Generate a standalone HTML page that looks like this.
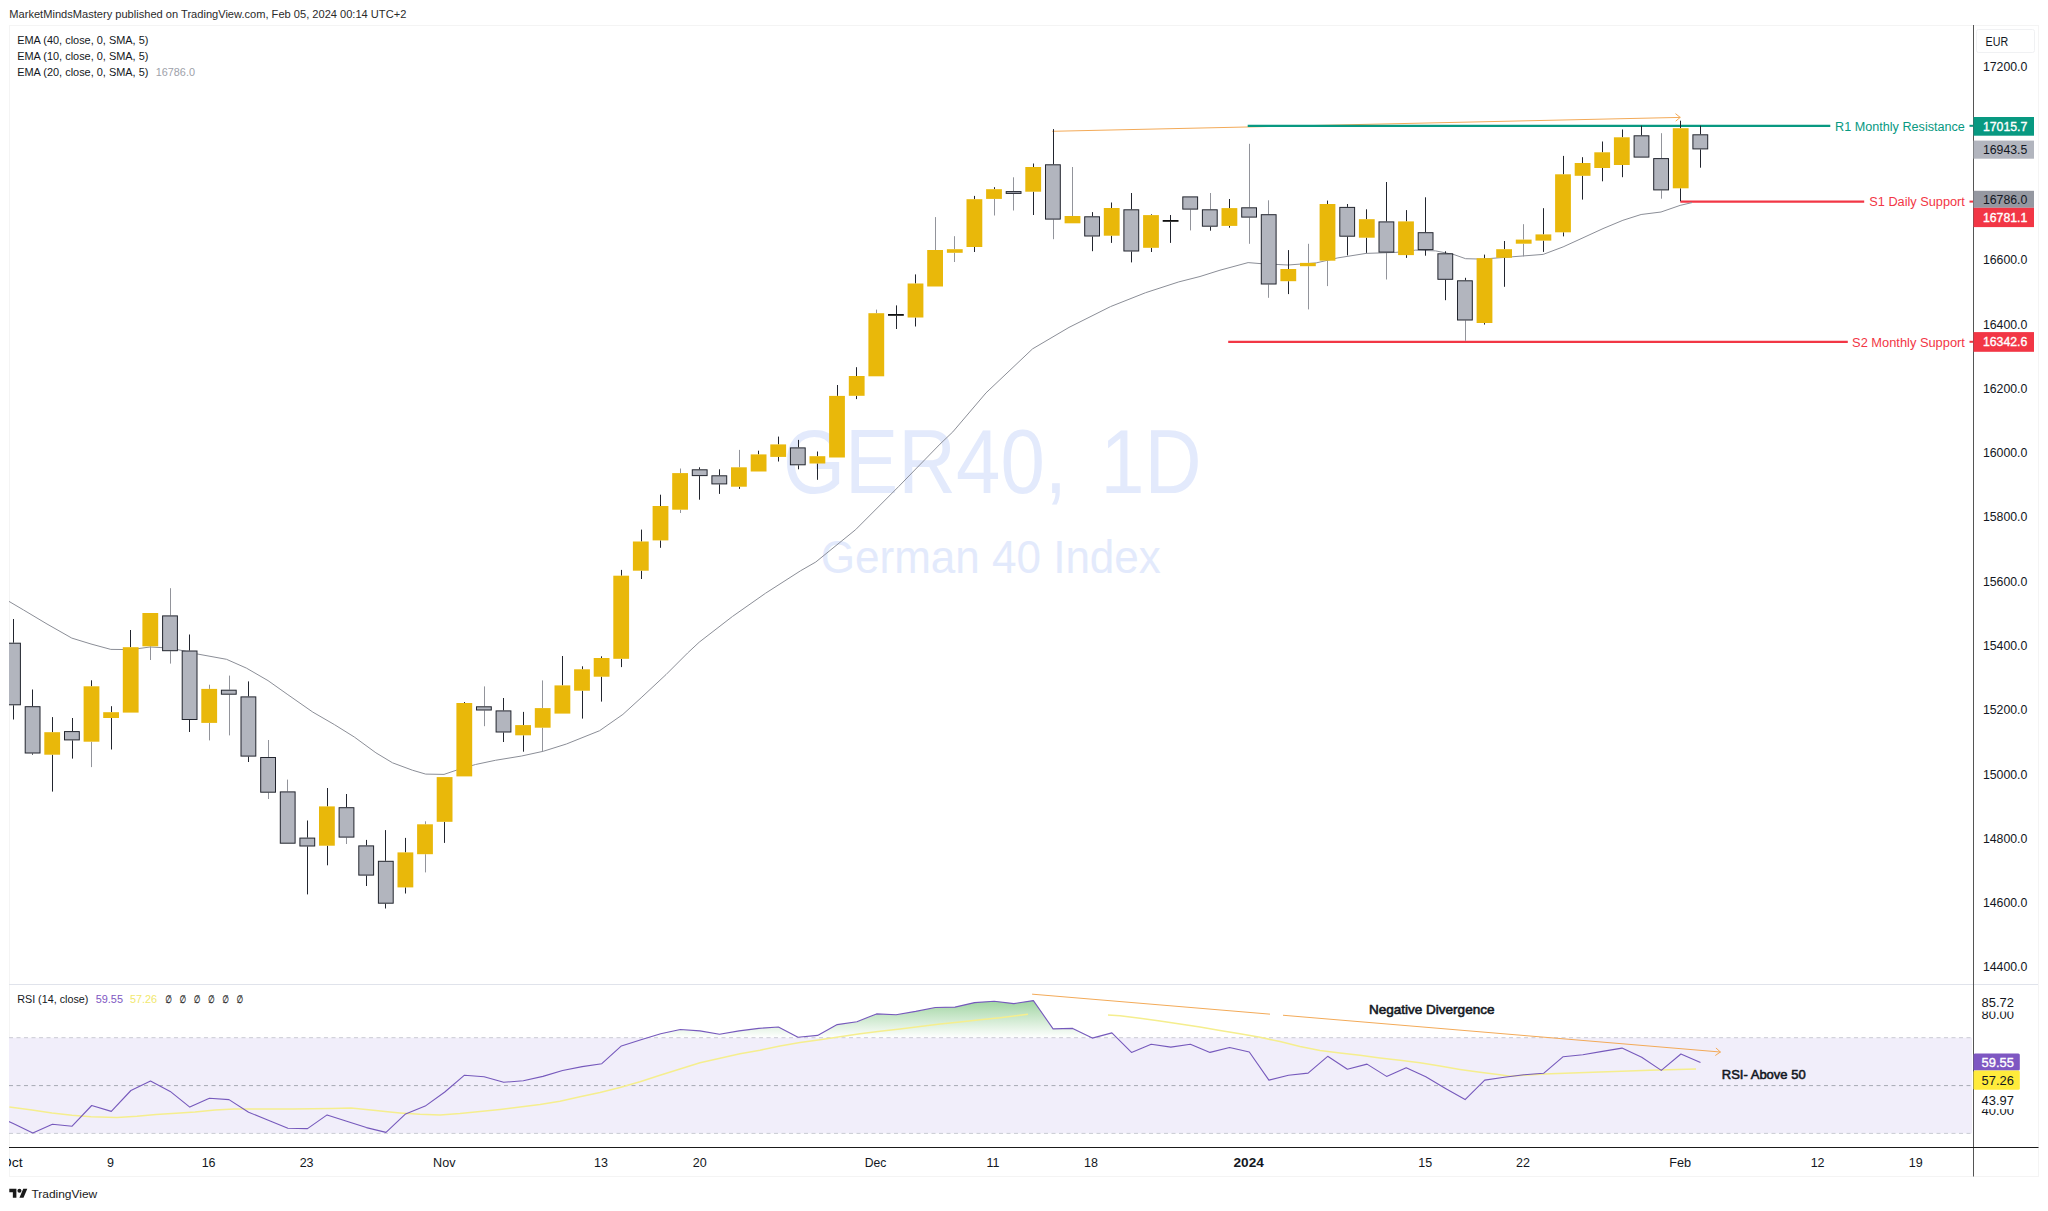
<!DOCTYPE html>
<html lang="en"><head><meta charset="utf-8"><title>GER40 1D - TradingView</title>
<style>html,body{margin:0;padding:0;background:#fff;overflow:hidden}svg{display:block}text{font-family:"Liberation Sans", "DejaVu Sans", sans-serif;white-space:pre}</style>
</head><body>
<svg width="2048" height="1211" viewBox="0 0 2048 1211">
<defs>
<linearGradient id="gob" gradientUnits="userSpaceOnUse" x1="0" y1="968" x2="0" y2="1037.7"><stop offset="0" stop-color="#4CAF50" stop-opacity="1"/><stop offset="1" stop-color="#4CAF50" stop-opacity="0"/></linearGradient>
<clipPath id="cp"><rect x="9" y="25" width="1964" height="1123"/></clipPath>
<clipPath id="cpt"><rect x="9" y="1148" width="2030" height="30"/></clipPath>
</defs>
<rect width="2048" height="1211" fill="#fff"/>
<g stroke="#F4F4F4" stroke-width="1" fill="none">
<path d="M9.5 25V1176.5M2038.5 25V1176.5M9 25.5H2039M9 1176.5H2039"/>
</g>
<text x="9.3" y="17.9" font-size="11.3" fill="#2a2a2a" font-weight="normal" textLength="397.0" lengthAdjust="spacingAndGlyphs">MarketMindsMastery published on TradingView.com, Feb 05, 2024 00:14 UTC+2</text>
<g fill="#E3EAFC" text-anchor="middle">
<text y="492.6" font-size="91" text-anchor="start"><tspan x="783" textLength="284" lengthAdjust="spacingAndGlyphs">GER40,</tspan><tspan x="1078.5" textLength="123" lengthAdjust="spacingAndGlyphs"> 1D</tspan></text>
<text x="990.8" y="573" font-size="46" textLength="340" lengthAdjust="spacingAndGlyphs">German 40 Index</text>
</g>
<g clip-path="url(#cp)">
<rect x="9" y="1037.7" width="1963" height="95.7" fill="#F1EEFA"/>
<g fill="none" stroke-width="1" stroke-dasharray="4 3.5">
<path d="M9 1037.7H1972M9 1133.4H1972" stroke="#C9CBD3"/>
<path d="M9 1085.6H1972" stroke="#A6A9B3"/>
</g>
</g>
<path d="M9 984.5H2038" stroke="#E0E3EB" stroke-width="1" fill="none"/>
<g clip-path="url(#cp)">
<g stroke="#F3AA58" stroke-width="1" fill="none" stroke-linecap="round">
<path d="M1052.7 131.3L1680 117.4"/>
<path d="M1675.8 113.9L1680.2 117.4L1676 120.9"/>
</g>
<path d="M1247.7 125.8H1830.3" stroke="#089981" stroke-width="2.2" fill="none"/>
<path d="M1680.3 201.6H1864.2" stroke="#F23645" stroke-width="2.2" fill="none"/>
<path d="M1228.2 341.8H1847.8" stroke="#F23645" stroke-width="2.2" fill="none"/>
<polyline points="9.0,601.4 23.6,610.0 47.0,624.0 71.8,638.1 91.0,644.0 110.8,649.4 131.0,649.6 150.0,647.0 170.0,648.0 189.0,652.0 197.4,654.0 226.5,659.3 246.4,668.1 268.0,680.6 287.9,694.7 312.8,712.1 334.4,724.6 354.3,737.0 375.9,752.8 392.5,762.8 412.4,770.2 425.7,774.1 444.0,774.4 456.4,770.2 475.5,764.5 495.4,760.3 521.6,756.0 543.2,751.3 566.4,744.0 599.6,730.7 622.9,714.4 641.1,697.8 666.0,674.6 687.6,653.0 699.2,642.2 732.4,616.5 765.6,593.2 800.5,570.8 815.8,562.0 855.7,529.6 898.8,486.4 940.0,444.1 952.8,431.9 986.0,392.9 1032.5,348.9 1069.0,327.4 1110.5,306.6 1145.6,292.7 1178.8,281.9 1200.0,276.5 1220.0,270.2 1248.1,262.6 1261.4,263.7 1288.0,265.0 1316.2,262.9 1337.8,257.9 1366.0,253.4 1395.9,252.4 1415.8,250.1 1435.7,250.9 1454.0,254.6 1465.6,258.7 1482.2,259.1 1512.1,256.8 1543.2,254.4 1563.1,246.9 1583.0,237.8 1603.0,228.6 1622.9,220.3 1641.1,214.5 1661.0,212.0 1680.1,205.4 1692.0,202.6" fill="none" stroke="#8B8E97" stroke-width="1" stroke-linejoin="round"/>
<path d="M13.5 619.0V642.7M13.5 705.3V719.5M32.5 689.5V706.2M32.5 753.5V754.7M52.5 717.1V732.2M52.5 754.7V791.6M72.5 718.0V731.1M72.5 740.4V758.6M91.5 680.3V686.3M111.5 706.2V712.2M111.5 718.0V749.5M130.5 630.0V647.2M189.5 634.5V650.5M189.5 720.0V732.0M248.5 681.4V696.4M248.5 756.6V762.0M307.5 820.5V837.6M307.5 846.5V894.4M327.5 788.0V806.4M327.5 845.7V865.3M346.5 794.0V807.2M366.5 839.9V845.4M366.5 875.6V886.0M385.5 830.1V860.8M385.5 903.7V908.5M405.5 837.9V852.4M405.5 887.4V893.5M444.5 821.8V842.9M464.5 702.0V703.0M503.5 698.0V710.4M503.5 732.5V742.0M523.5 711.9V725.1M523.5 735.3V751.7M562.5 656.0V685.4M582.5 666.3V669.3M582.5 690.7V718.6M601.5 656.3V658.0M601.5 676.7V701.6M621.5 569.9V575.7M621.5 658.8V667.1M641.5 529.6V541.5M641.5 570.7V579.0M660.5 494.7V506.0M660.5 540.4V547.8M699.5 467.3V469.3M699.5 476.1V499.7M719.5 469.3V475.3M719.5 484.4V493.9M739.5 486.7V488.9M758.5 450.7V454.4M778.5 436.6V444.4M778.5 456.9V461.5M798.5 439.9V447.4M798.5 465.3V469.3M817.5 451.5V456.2M817.5 463.5V479.8M837.5 385.0V395.9M856.5 367.2V376.0M856.5 395.8V399.1M896.5 305.4V314.0M896.5 315.8V329.0M915.5 274.4V283.5M915.5 317.5V326.5M974.5 195.9V199.2M974.5 247.0V252.0M994.5 187.2V189.2M1033.5 163.5V167.0M1033.5 191.7V215.0M1053.5 129.1V164.3M1092.5 212.1V216.3M1092.5 236.5V251.2M1111.5 202.5V208.0M1111.5 235.7V242.9M1131.5 193.0V209.3M1131.5 251.5V262.4M1151.5 214.3V215.1M1151.5 247.8V252.0M1170.5 215.0V220.0M1170.5 221.8V242.9M1210.5 226.7V230.7M1229.5 199.0V208.1M1229.5 225.9V227.7M1288.5 250.1V269.0M1288.5 281.2V294.1M1327.5 200.6V204.0M1347.5 204.0V206.9M1347.5 236.7V255.4M1366.5 209.3V219.2M1366.5 237.7V252.9M1386.5 182.0V221.4M1406.5 210.1V221.4M1406.5 255.1V257.9M1425.5 197.3V232.2M1425.5 250.1V255.7M1445.5 251.3V253.3M1445.5 279.8V300.2M1465.5 277.8V280.3M1484.5 254.6V258.2M1484.5 323.0V324.6M1504.5 241.0V249.2M1504.5 257.8V286.8M1543.5 208.2V234.4M1543.5 240.6V251.9M1563.5 155.9V174.3M1563.5 232.3V236.4M1582.5 157.2V163.0M1582.5 175.8V199.6M1602.5 141.5V152.3M1602.5 168.0V181.3M1622.5 129.5V137.3M1622.5 165.0V177.2M1641.5 125.7V135.3M1680.5 120.7V128.2M1680.5 188.3V201.2M1700.5 125.7V134.3M1700.5 149.4V167.7" stroke="#22252E" stroke-width="1" fill="none"/>
<path d="M91.5 741.7V767.1M150.5 646.3V660.0M170.5 588.2V615.4M170.5 651.2V663.6M209.5 684.7V688.9M209.5 722.9V740.4M229.5 675.6V689.7M229.5 694.7V735.4M268.5 740.0V757.0M268.5 792.7V799.0M287.5 779.6V791.4M346.5 837.6V844.0M425.5 821.3V824.3M425.5 854.2V872.4M484.5 686.4V706.3M484.5 710.5V726.2M542.5 680.4V708.1M542.5 727.7V751.0M680.5 468.5V473.1M680.5 509.7V513.0M739.5 449.9V467.3M876.5 309.6V313.2M935.5 217.1V250.0M954.5 236.2V249.2M954.5 252.8V262.0M994.5 198.9V215.5M1013.5 177.3V191.1M1013.5 193.9V210.5M1053.5 219.6V239.2M1072.5 167.0V216.0M1190.5 209.6V230.4M1210.5 193.0V209.3M1249.5 143.8V207.3M1249.5 217.6V243.8M1268.5 200.3V214.2M1268.5 284.5V297.8M1308.5 243.8V262.9M1308.5 266.2V309.4M1327.5 260.7V286.1M1386.5 252.6V279.5M1465.5 320.5V340.9M1523.5 224.2V239.6M1523.5 243.7V256.4M1661.5 133.2V158.1M1661.5 190.4V198.7" stroke="#92949B" stroke-width="1" fill="none"/>
<g fill="#E9B80A">
<rect x="44.3" y="732.2" width="15.8" height="22.5"/>
<rect x="83.6" y="686.3" width="15.8" height="55.4"/>
<rect x="103.2" y="712.2" width="15.8" height="5.8"/>
<rect x="122.8" y="647.2" width="15.8" height="65.4"/>
<rect x="142.4" y="613.0" width="15.8" height="33.3"/>
<rect x="201.3" y="688.9" width="15.8" height="34.0"/>
<rect x="319.0" y="806.4" width="15.8" height="39.3"/>
<rect x="397.5" y="852.4" width="15.8" height="35.0"/>
<rect x="417.1" y="824.3" width="15.8" height="29.9"/>
<rect x="436.7" y="777.1" width="15.8" height="44.7"/>
<rect x="456.4" y="703.0" width="15.8" height="73.4"/>
<rect x="515.2" y="725.1" width="15.8" height="10.2"/>
<rect x="534.8" y="708.1" width="15.8" height="19.6"/>
<rect x="554.5" y="685.4" width="15.8" height="28.2"/>
<rect x="574.1" y="669.3" width="15.8" height="21.4"/>
<rect x="593.7" y="658.0" width="15.8" height="18.7"/>
<rect x="613.3" y="575.7" width="15.8" height="83.1"/>
<rect x="632.9" y="541.5" width="15.8" height="29.2"/>
<rect x="652.6" y="506.0" width="15.8" height="34.4"/>
<rect x="672.2" y="473.1" width="15.8" height="36.6"/>
<rect x="731.0" y="467.3" width="15.8" height="19.4"/>
<rect x="750.7" y="454.4" width="15.8" height="17.1"/>
<rect x="770.3" y="444.4" width="15.8" height="12.5"/>
<rect x="809.5" y="456.2" width="15.8" height="7.3"/>
<rect x="829.1" y="395.9" width="15.8" height="61.6"/>
<rect x="848.8" y="376.0" width="15.8" height="19.8"/>
<rect x="868.4" y="313.2" width="15.8" height="63.1"/>
<rect x="907.6" y="283.5" width="15.8" height="34.0"/>
<rect x="927.2" y="250.0" width="15.8" height="36.5"/>
<rect x="946.9" y="249.2" width="15.8" height="3.6"/>
<rect x="966.5" y="199.2" width="15.8" height="47.8"/>
<rect x="986.1" y="189.2" width="15.8" height="9.7"/>
<rect x="1025.3" y="167.0" width="15.8" height="24.7"/>
<rect x="1064.6" y="216.0" width="15.8" height="7.3"/>
<rect x="1103.8" y="208.0" width="15.8" height="27.7"/>
<rect x="1143.1" y="215.1" width="15.8" height="32.7"/>
<rect x="1221.5" y="208.1" width="15.8" height="17.8"/>
<rect x="1280.4" y="269.0" width="15.8" height="12.2"/>
<rect x="1300.0" y="262.9" width="15.8" height="3.3"/>
<rect x="1319.6" y="204.0" width="15.8" height="56.7"/>
<rect x="1358.9" y="219.2" width="15.8" height="18.5"/>
<rect x="1398.1" y="221.4" width="15.8" height="33.7"/>
<rect x="1476.6" y="258.2" width="15.8" height="64.8"/>
<rect x="1496.2" y="249.2" width="15.8" height="8.6"/>
<rect x="1515.8" y="239.6" width="15.8" height="4.1"/>
<rect x="1535.5" y="234.4" width="15.8" height="6.2"/>
<rect x="1555.1" y="174.3" width="15.8" height="58.0"/>
<rect x="1574.7" y="163.0" width="15.8" height="12.8"/>
<rect x="1594.3" y="152.3" width="15.8" height="15.7"/>
<rect x="1613.9" y="137.3" width="15.8" height="27.7"/>
<rect x="1672.8" y="128.2" width="15.8" height="60.1"/>
</g>
<g fill="#B2B5BE" stroke="#22252E" stroke-width="1">
<rect x="5.6" y="643.2" width="14.8" height="61.6"/>
<rect x="25.2" y="706.7" width="14.8" height="46.3"/>
<rect x="64.5" y="731.6" width="14.8" height="8.3"/>
<rect x="162.6" y="615.9" width="14.8" height="34.8"/>
<rect x="182.2" y="651.0" width="14.8" height="68.5"/>
<rect x="221.4" y="690.2" width="14.8" height="4.0"/>
<rect x="241.0" y="696.9" width="14.8" height="59.2"/>
<rect x="260.7" y="757.5" width="14.8" height="34.7"/>
<rect x="280.3" y="791.9" width="14.8" height="51.3"/>
<rect x="299.9" y="838.1" width="14.8" height="7.9"/>
<rect x="339.1" y="807.7" width="14.8" height="29.4"/>
<rect x="358.8" y="845.9" width="14.8" height="29.2"/>
<rect x="378.4" y="861.3" width="14.8" height="41.9"/>
<rect x="476.5" y="706.8" width="14.8" height="3.2"/>
<rect x="496.1" y="710.9" width="14.8" height="21.1"/>
<rect x="692.3" y="469.8" width="14.8" height="5.8"/>
<rect x="711.9" y="475.8" width="14.8" height="8.1"/>
<rect x="790.4" y="447.9" width="14.8" height="16.9"/>
<rect x="1006.2" y="191.6" width="14.8" height="1.8"/>
<rect x="1045.5" y="164.8" width="14.8" height="54.3"/>
<rect x="1084.7" y="216.8" width="14.8" height="19.2"/>
<rect x="1123.9" y="209.8" width="14.8" height="41.2"/>
<rect x="1182.8" y="196.9" width="14.8" height="12.2"/>
<rect x="1202.4" y="209.8" width="14.8" height="16.4"/>
<rect x="1241.7" y="207.8" width="14.8" height="9.3"/>
<rect x="1261.3" y="214.7" width="14.8" height="69.3"/>
<rect x="1339.8" y="207.4" width="14.8" height="28.8"/>
<rect x="1379.0" y="221.9" width="14.8" height="30.2"/>
<rect x="1418.2" y="232.7" width="14.8" height="16.9"/>
<rect x="1437.9" y="253.8" width="14.8" height="25.5"/>
<rect x="1457.5" y="280.8" width="14.8" height="39.2"/>
<rect x="1634.1" y="135.8" width="14.8" height="21.3"/>
<rect x="1653.7" y="158.6" width="14.8" height="31.3"/>
<rect x="1692.9" y="134.8" width="14.8" height="14.1"/>
</g>
<g fill="#111">
<rect x="888.0" y="314.0" width="15.8" height="1.8"/>
<rect x="1162.7" y="220.0" width="15.8" height="1.8"/>
</g>
<polygon points="647.7,1037.7 660.7,1033.8 680.3,1029.5 699.9,1030.9 719.5,1034.2 739.1,1030.9 758.8,1028.4 778.4,1027.0 798.0,1037.3 817.6,1035.4 837.2,1024.6 856.9,1021.7 876.5,1013.9 896.1,1014.7 915.7,1011.4 935.3,1007.5 955.0,1007.1 974.6,1002.6 994.2,1001.2 1013.8,1003.6 1033.4,1000.6 1053.1,1028.9 1072.7,1028.4 1091.5,1037.7" fill="url(#gob)"/>
<polygon points="1093.8,1037.7 1111.9,1032.9 1116.7,1037.7" fill="url(#gob)"/>
<polyline points="9.4,1107.0 32.0,1110.0 52.0,1113.0 72.0,1115.3 91.0,1116.8 117.0,1117.4 137.0,1116.3 156.0,1114.5 176.0,1113.3 195.0,1112.0 215.0,1110.0 234.0,1109.0 254.0,1109.0 293.0,1109.0 332.0,1108.4 351.0,1108.0 371.0,1110.0 390.0,1112.0 400.0,1112.9 420.0,1114.3 440.0,1114.9 460.0,1113.5 480.0,1111.6 500.0,1109.4 520.0,1107.1 540.0,1104.5 560.0,1101.2 580.0,1096.7 600.0,1092.4 620.0,1087.5 640.0,1081.7 660.0,1075.2 680.0,1069.0 700.0,1062.7 720.0,1058.2 740.0,1053.8 760.0,1050.2 780.0,1046.0 800.0,1042.6 820.0,1039.7 840.0,1036.8 860.0,1033.8 880.0,1031.3 900.0,1029.0 920.0,1026.6 940.0,1024.0 960.0,1022.0 980.0,1019.8 1000.0,1017.8 1020.0,1015.3 1028.0,1014.3" fill="none" stroke="#F5EE8E" stroke-width="1.5" stroke-linejoin="round"/>
<polyline points="1108.0,1015.0 1120.0,1015.8 1140.0,1018.2 1160.0,1021.1 1180.0,1024.0 1200.0,1027.0 1220.0,1030.5 1240.0,1033.8 1260.0,1037.3 1280.0,1041.6 1300.0,1046.5 1320.0,1050.4 1340.0,1053.0 1360.0,1055.3 1380.0,1057.9 1400.0,1060.2 1420.0,1062.7 1440.0,1066.1 1460.0,1069.4 1480.0,1072.3 1500.0,1074.8 1510.0,1076.2 1520.0,1075.4 1544.0,1073.9 1600.0,1072.0 1650.0,1070.3 1696.0,1069.0" fill="none" stroke="#F5EE8E" stroke-width="1.5" stroke-linejoin="round"/>
<polyline points="-6.4,1114.7 13.2,1123.5 32.8,1132.9 52.4,1124.3 72.1,1126.2 91.7,1105.5 111.3,1111.4 130.9,1090.5 150.5,1081.1 170.2,1091.4 189.8,1107.1 209.4,1098.3 229.0,1099.6 248.6,1112.3 268.3,1120.2 287.9,1128.2 307.5,1128.6 327.1,1114.9 346.7,1121.3 366.4,1127.6 386.0,1132.4 405.6,1113.9 425.2,1106.1 444.8,1092.0 464.5,1075.2 484.1,1076.8 503.7,1082.3 523.3,1080.7 542.9,1076.4 562.6,1070.5 582.2,1066.6 601.8,1063.7 621.4,1045.9 641.0,1039.7 660.7,1033.8 680.3,1029.5 699.9,1030.9 719.5,1034.2 739.1,1030.9 758.8,1028.4 778.4,1027.0 798.0,1037.3 817.6,1035.4 837.2,1024.6 856.9,1021.7 876.5,1013.9 896.1,1014.7 915.7,1011.4 935.3,1007.5 955.0,1007.1 974.6,1002.6 994.2,1001.2 1013.8,1003.6 1033.4,1000.6 1053.1,1028.9 1072.7,1028.4 1092.3,1038.1 1111.9,1032.9 1131.5,1052.4 1151.2,1044.2 1170.8,1047.1 1190.4,1044.2 1210.0,1052.4 1229.6,1047.5 1249.3,1052.0 1268.9,1080.1 1288.5,1075.2 1308.1,1073.1 1327.7,1056.3 1347.4,1069.2 1367.0,1064.1 1386.6,1076.4 1406.2,1067.8 1425.8,1076.8 1445.5,1088.5 1465.1,1099.6 1484.7,1080.1 1504.3,1077.2 1523.9,1074.8 1543.6,1073.3 1563.2,1056.7 1582.8,1054.7 1602.4,1051.4 1622.0,1048.1 1641.7,1057.3 1661.3,1070.4 1680.9,1054.0 1700.5,1062.5" fill="none" stroke="#7659BC" stroke-width="1.1" stroke-linejoin="round"/>
<g stroke="#F3AA58" stroke-width="1" fill="none" stroke-linecap="round">
<path d="M1032.5 994.2L1720.2 1052"/>
<path d="M1716.2 1048.2L1720.4 1052L1715.6 1055.3"/>
</g>
<rect x="1270" y="1010" width="13" height="10" fill="#fff"/>
</g>
<text x="1368.9" y="1014.1" font-size="12.8" fill="#131722" font-weight="normal" textLength="125.6" lengthAdjust="spacingAndGlyphs" stroke="#131722" stroke-width="0.55">Negative Divergence</text>
<text x="1721.8" y="1078.9" font-size="12.8" fill="#131722" font-weight="normal" textLength="83.9" lengthAdjust="spacingAndGlyphs" stroke="#131722" stroke-width="0.55">RSI- Above 50</text>
<text x="1835.1" y="130.5" font-size="12.3" fill="#089981" font-weight="normal" textLength="129.8" lengthAdjust="spacingAndGlyphs">R1 Monthly Resistance</text>
<text x="1869.3" y="206.0" font-size="12.3" fill="#F23645" font-weight="normal" textLength="95.6" lengthAdjust="spacingAndGlyphs">S1 Daily Support</text>
<text x="1852.1" y="346.5" font-size="12.3" fill="#F23645" font-weight="normal" textLength="112.8" lengthAdjust="spacingAndGlyphs">S2 Monthly Support</text>
<text x="17.2" y="43.7" font-size="11.2" fill="#131722" font-weight="normal" textLength="131.2" lengthAdjust="spacingAndGlyphs">EMA (40, close, 0, SMA, 5)</text>
<text x="17.2" y="59.9" font-size="11.2" fill="#131722" font-weight="normal" textLength="131.2" lengthAdjust="spacingAndGlyphs">EMA (10, close, 0, SMA, 5)</text>
<text x="17.2" y="76.2" font-size="11.2" fill="#131722" font-weight="normal" textLength="131.2" lengthAdjust="spacingAndGlyphs">EMA (20, close, 0, SMA, 5)</text>
<text x="155.7" y="76.2" font-size="11.2" fill="#9EA1AA" font-weight="normal" textLength="39.3" lengthAdjust="spacingAndGlyphs">16786.0</text>
<text x="17.2" y="1003.1" font-size="11.2" fill="#131722" font-weight="normal" textLength="71.2" lengthAdjust="spacingAndGlyphs">RSI (14, close)</text>
<text x="95.7" y="1003.1" font-size="11.2" fill="#7E57C2" font-weight="normal" textLength="27.3" lengthAdjust="spacingAndGlyphs">59.55</text>
<text x="129.9" y="1003.1" font-size="11.2" fill="#F1E86C" font-weight="normal" textLength="27.3" lengthAdjust="spacingAndGlyphs">57.26</text>
<text x="165.2" y="1003.0" font-size="10.5" fill="#2a2a2a" font-weight="normal" textLength="6.4" lengthAdjust="spacingAndGlyphs" stroke="#2a2a2a" stroke-width="0.3">∅</text>
<text x="179.4" y="1003.0" font-size="10.5" fill="#2a2a2a" font-weight="normal" textLength="6.4" lengthAdjust="spacingAndGlyphs" stroke="#2a2a2a" stroke-width="0.3">∅</text>
<text x="193.7" y="1003.0" font-size="10.5" fill="#2a2a2a" font-weight="normal" textLength="6.4" lengthAdjust="spacingAndGlyphs" stroke="#2a2a2a" stroke-width="0.3">∅</text>
<text x="207.9" y="1003.0" font-size="10.5" fill="#2a2a2a" font-weight="normal" textLength="6.4" lengthAdjust="spacingAndGlyphs" stroke="#2a2a2a" stroke-width="0.3">∅</text>
<text x="222.2" y="1003.0" font-size="10.5" fill="#2a2a2a" font-weight="normal" textLength="6.4" lengthAdjust="spacingAndGlyphs" stroke="#2a2a2a" stroke-width="0.3">∅</text>
<text x="236.6" y="1003.0" font-size="10.5" fill="#2a2a2a" font-weight="normal" textLength="6.4" lengthAdjust="spacingAndGlyphs" stroke="#2a2a2a" stroke-width="0.3">∅</text>
<path d="M1973.5 25V1176.5" stroke="#555" stroke-width="1" fill="none"/>
<path d="M9 1147.5H2038.5" stroke="#1a1a1a" stroke-width="1.2" fill="none"/>
<rect x="1976.5" y="29.5" width="58" height="23" rx="2" fill="#fff" stroke="#F0F1F3" stroke-width="1"/>
<text x="1985.6" y="45.7" font-size="13.2" fill="#131722" font-weight="normal" textLength="22.6" lengthAdjust="spacingAndGlyphs">EUR</text>
<text x="1982.9" y="71.4" font-size="12.5" fill="#131722" font-weight="normal" textLength="44.5" lengthAdjust="spacingAndGlyphs">17200.0</text>
<text x="1982.9" y="264.3" font-size="12.5" fill="#131722" font-weight="normal" textLength="44.5" lengthAdjust="spacingAndGlyphs">16600.0</text>
<text x="1982.9" y="328.5" font-size="12.5" fill="#131722" font-weight="normal" textLength="44.5" lengthAdjust="spacingAndGlyphs">16400.0</text>
<text x="1982.9" y="392.8" font-size="12.5" fill="#131722" font-weight="normal" textLength="44.5" lengthAdjust="spacingAndGlyphs">16200.0</text>
<text x="1982.9" y="457.1" font-size="12.5" fill="#131722" font-weight="normal" textLength="44.5" lengthAdjust="spacingAndGlyphs">16000.0</text>
<text x="1982.9" y="521.4" font-size="12.5" fill="#131722" font-weight="normal" textLength="44.5" lengthAdjust="spacingAndGlyphs">15800.0</text>
<text x="1982.9" y="585.7" font-size="12.5" fill="#131722" font-weight="normal" textLength="44.5" lengthAdjust="spacingAndGlyphs">15600.0</text>
<text x="1982.9" y="650.0" font-size="12.5" fill="#131722" font-weight="normal" textLength="44.5" lengthAdjust="spacingAndGlyphs">15400.0</text>
<text x="1982.9" y="714.3" font-size="12.5" fill="#131722" font-weight="normal" textLength="44.5" lengthAdjust="spacingAndGlyphs">15200.0</text>
<text x="1982.9" y="778.5" font-size="12.5" fill="#131722" font-weight="normal" textLength="44.5" lengthAdjust="spacingAndGlyphs">15000.0</text>
<text x="1982.9" y="842.8" font-size="12.5" fill="#131722" font-weight="normal" textLength="44.5" lengthAdjust="spacingAndGlyphs">14800.0</text>
<text x="1982.9" y="907.1" font-size="12.5" fill="#131722" font-weight="normal" textLength="44.5" lengthAdjust="spacingAndGlyphs">14600.0</text>
<text x="1982.9" y="971.4" font-size="12.5" fill="#131722" font-weight="normal" textLength="44.5" lengthAdjust="spacingAndGlyphs">14400.0</text>
<rect x="1973.5" y="117" width="60.5" height="18.7" fill="#089981"/>
<text x="1982.9" y="130.8" font-size="12.5" fill="#fff" font-weight="normal" textLength="44.5" lengthAdjust="spacingAndGlyphs" stroke="#fff" stroke-width="0.35">17015.7</text>
<rect x="1973.5" y="140.6" width="60.5" height="18.1" fill="#B2B5BE"/>
<text x="1982.9" y="154.0" font-size="12.5" fill="#131722" font-weight="normal" textLength="44.5" lengthAdjust="spacingAndGlyphs">16943.5</text>
<rect x="1973.5" y="190.8" width="60.5" height="17.0" fill="#9598A1"/>
<text x="1982.9" y="203.7" font-size="12.5" fill="#131722" font-weight="normal" textLength="44.5" lengthAdjust="spacingAndGlyphs">16786.0</text>
<rect x="1973.5" y="207.8" width="60.5" height="19.3" fill="#F23645"/>
<text x="1982.9" y="221.8" font-size="12.5" fill="#fff" font-weight="normal" textLength="44.5" lengthAdjust="spacingAndGlyphs" stroke="#fff" stroke-width="0.35">16781.1</text>
<rect x="1973.5" y="332.1" width="60.5" height="19.7" fill="#F23645"/>
<text x="1982.9" y="346.4" font-size="12.5" fill="#fff" font-weight="normal" textLength="44.5" lengthAdjust="spacingAndGlyphs" stroke="#fff" stroke-width="0.35">16342.6</text>
<path d="M1969.5 125.8H1973" stroke="#089981" stroke-width="2"/>
<path d="M1969.5 201.6H1973" stroke="#F23645" stroke-width="2"/>
<path d="M1969.5 341.8H1973" stroke="#F23645" stroke-width="2"/>
<text x="1981.6" y="1018.8" font-size="12.5" fill="#131722" font-weight="normal" textLength="32.3" lengthAdjust="spacingAndGlyphs">80.00</text>
<rect x="1976" y="993" width="44" height="18.6" fill="#fff"/>
<text x="1981.6" y="1006.5" font-size="12.5" fill="#131722" font-weight="normal" textLength="32.3" lengthAdjust="spacingAndGlyphs">85.72</text>
<text x="1981.6" y="1115.1" font-size="12.5" fill="#131722" font-weight="normal" textLength="32.3" lengthAdjust="spacingAndGlyphs">40.00</text>
<rect x="1976" y="1091.5" width="44" height="17.6" fill="#fff"/>
<text x="1981.6" y="1105.0" font-size="12.5" fill="#131722" font-weight="normal" textLength="32.3" lengthAdjust="spacingAndGlyphs">43.97</text>
<rect x="1973.5" y="1053.4" width="46.3" height="17.2" rx="1.5" fill="#7E57C2"/>
<text x="1981.6" y="1066.7" font-size="12.5" fill="#fff" font-weight="normal" textLength="32.3" lengthAdjust="spacingAndGlyphs" stroke="#fff" stroke-width="0.35">59.55</text>
<rect x="1973.5" y="1070.6" width="46.3" height="19.1" rx="1.5" fill="#FFEB3B"/>
<text x="1981.6" y="1084.8" font-size="12.5" fill="#131722" font-weight="normal" textLength="32.3" lengthAdjust="spacingAndGlyphs">57.26</text>
<g clip-path="url(#cpt)">
<text x="0.8" y="1166.7" font-size="12.5" fill="#131722" font-weight="normal" textLength="22.0" lengthAdjust="spacingAndGlyphs">Oct</text>
<text x="110.5" y="1166.7" font-size="12.5" fill="#131722" font-weight="normal" text-anchor="middle">9</text>
<text x="208.6" y="1166.7" font-size="12.5" fill="#131722" font-weight="normal" text-anchor="middle">16</text>
<text x="306.6" y="1166.7" font-size="12.5" fill="#131722" font-weight="normal" text-anchor="middle">23</text>
<text x="433.1" y="1166.7" font-size="12.5" fill="#131722" font-weight="normal" textLength="22.4" lengthAdjust="spacingAndGlyphs">Nov</text>
<text x="601.0" y="1166.7" font-size="12.5" fill="#131722" font-weight="normal" text-anchor="middle">13</text>
<text x="699.8" y="1166.7" font-size="12.5" fill="#131722" font-weight="normal" text-anchor="middle">20</text>
<text x="864.8" y="1166.7" font-size="12.5" fill="#131722" font-weight="normal" textLength="21.6" lengthAdjust="spacingAndGlyphs">Dec</text>
<text x="993.0" y="1166.7" font-size="12.5" fill="#131722" font-weight="normal" text-anchor="middle">11</text>
<text x="1091.0" y="1166.7" font-size="12.5" fill="#131722" font-weight="normal" text-anchor="middle">18</text>
<text x="1233.5" y="1166.7" font-size="12.5" fill="#131722" font-weight="bold" textLength="30.4" lengthAdjust="spacingAndGlyphs">2024</text>
<text x="1425.2" y="1166.7" font-size="12.5" fill="#131722" font-weight="normal" text-anchor="middle">15</text>
<text x="1523.0" y="1166.7" font-size="12.5" fill="#131722" font-weight="normal" text-anchor="middle">22</text>
<text x="1669.2" y="1166.7" font-size="12.5" fill="#131722" font-weight="normal" textLength="21.9" lengthAdjust="spacingAndGlyphs">Feb</text>
<text x="1817.6" y="1166.7" font-size="12.5" fill="#131722" font-weight="normal" text-anchor="middle">12</text>
<text x="1915.8" y="1166.7" font-size="12.5" fill="#131722" font-weight="normal" text-anchor="middle">19</text>
</g>
<g transform="translate(9.3,1186.6) scale(0.507)" fill="#1a1a1a"><path d="M14 22H7V11H0V4h14v18zM28 22h-8l7.500-18h8L28 22z"/><circle cx="20" cy="8" r="4"/></g>
<text x="31.4" y="1198.0" font-size="11.6" fill="#1a1a1a" font-weight="normal" textLength="65.8" lengthAdjust="spacingAndGlyphs">TradingView</text>
</svg>
</body></html>
